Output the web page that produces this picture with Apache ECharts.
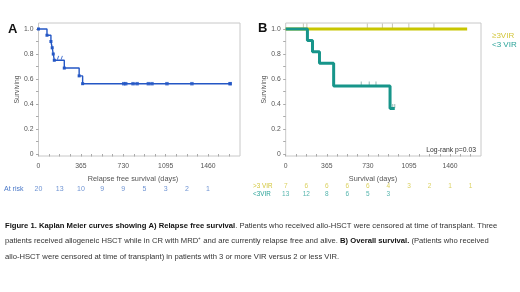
<!DOCTYPE html>
<html>
<head>
<meta charset="utf-8">
<script src="https://cdn.jsdelivr.net/npm/echarts@6/dist/echarts.min.js"></script>
<style>
  html,body{margin:0;padding:0;background:#fff}
  #main{width:520px;height:292px}
</style>
</head>
<body>
<div id="main"></div>
<script>
// panel A: relapse free survival (days, survival)
var rfsSteps=[[0,1],[73,0.95],[107,0.90],[118,0.85],[127,0.80],[136,0.75],[222,0.6875],[350,0.625],[380,0.5625],[1650,0.5625]]
var rfsCensorSq=[[734,0.5625],[751,0.5625],[814,0.5625],[849,0.5625],[946,0.5625],[977,0.5625],[1106,0.5625],[1321,0.5625],[1650,0.5625]]
var rfsCensorTick=[[168,0.75],[200,0.75]]
var riskDays=[0,182.5,365,547.5,730,912.5,1095,1277.5,1460,1642.5]
var riskA=[20,13,10,9,9,5,3,2,1]

// panel B: overall survival by VIR group
var hiVir=[[0,1],[1612,1]]
var hiVirCensor=[[157,1],[188,1],[725,1],[859,1],[948,1],[1094,1],[1317,1]]
var loVir=[[0,1],[193,0.909],[238,0.818],[300,0.727],[426,0.545],[927,0.364],[969,0.364]]
var loVirCensor=[[671,0.545],[742,0.545],[802,0.545],[951,0.364],[969,0.364]]
var riskHi=[7,6,6,6,6,4,3,2,1,1]
var riskLo=[13,12,8,6,5,3]

var xLabels=[0,365,730,1095,1460]
var yLabels=[0,0.2,0.4,0.6,0.8,1.0]
var xTicks=[0,91.25,182.5,273.75,365,456.25,547.5,638.75,730,821.25,912.5,1003.75,1095,1186.25,1277.5,1368.75,1460,1551.25,1642.5]
var yTicks=[0,0.1,0.2,0.3,0.4,0.5,0.6,0.7,0.8,0.9,1.0]

var blue='#2457c5', blueTxt='#4a78c8'
var yel='#c8c600', yelTxt='#d2c63a'
var teal='#17958a', tealTxt='#2aa398'
var FF='"Liberation Sans", Arial, sans-serif'

var chart=echarts.init(document.getElementById('main'),null,{renderer:'canvas'})

function xAx(gi){
  return {type:'value',gridIndex:gi,min:0,max:1735,
    axisLine:{show:false},splitLine:{show:false},
    axisTick:{show:true,length:2.5,lineStyle:{color:'#aaa'},customValues:xTicks},
    axisLabel:{fontSize:6.8,color:'#555',fontFamily:FF,margin:7,customValues:xLabels,
      formatter:function(v){return String(v)}}}
}
function yAx(gi){
  return {type:'value',gridIndex:gi,min:-0.016,max:1.048,
    name:'Surviving',nameLocation:'middle',nameGap:17,
    nameTextStyle:{fontSize:6.8,color:'#555',fontFamily:FF},
    axisLine:{show:false},splitLine:{show:false},
    axisTick:{show:true,length:2.5,lineStyle:{color:'#aaa'},customValues:yTicks},
    axisLabel:{fontSize:6.8,color:'#555',fontFamily:FF,margin:5,customValues:yLabels,
      formatter:function(v){return v===0?'0':v.toFixed(1)}}}
}
function hidX(gi){return {type:'value',gridIndex:gi,min:0,max:1735,show:false}}
function hidY(gi){return {type:'value',gridIndex:gi,min:0,max:1,show:false}}

function riskSeries(gi,arr,yv,color,fs){
  return {type:'scatter',xAxisIndex:gi,yAxisIndex:gi,symbolSize:0,silent:true,
    data:arr.map(function(n,i){return {value:[riskDays[i],yv],label:{formatter:String(n)}}}),
    label:{show:true,position:'inside',fontSize:fs,color:color,fontFamily:FF}}
}

var capStyle={fontSize:7.65,fill:'#333',fontFamily:FF,verticalAlign:'middle',
  rich:{b:{fontWeight:'bold',fill:'#111',fontSize:7.65,fontFamily:FF}}}

var option={
  animation:false,
  grid:[
    {left:38.5,top:23,width:201.5,height:133,show:true,borderColor:'#c8c8c8',borderWidth:1,backgroundColor:'#fff'},
    {left:285.7,top:23,width:195.3,height:133,show:true,borderColor:'#c8c8c8',borderWidth:1,backgroundColor:'#fff'},
    {left:38.5,top:183,width:201.5,height:12},
    {left:285.7,top:180,width:195.3,height:20}
  ],
  xAxis:[xAx(0),xAx(1),hidX(2),hidX(3)],
  yAxis:[yAx(0),yAx(1),hidY(2),hidY(3)],
  series:[
    {type:'line',xAxisIndex:0,yAxisIndex:0,step:'end',data:rfsSteps,
      symbol:'rect',symbolSize:3,showSymbol:true,
      lineStyle:{color:blue,width:1.4},itemStyle:{color:blue}},
    {type:'scatter',xAxisIndex:0,yAxisIndex:0,data:rfsCensorSq,symbol:'rect',symbolSize:3.5,itemStyle:{color:blue}},
    {type:'scatter',xAxisIndex:0,yAxisIndex:0,data:rfsCensorTick,symbol:'rect',symbolSize:[1,4],symbolOffset:[0,-2.5],symbolRotate:-20,itemStyle:{color:blue}},
    {type:'line',xAxisIndex:1,yAxisIndex:1,data:hiVir,showSymbol:false,lineStyle:{color:yel,width:3}},
    {type:'scatter',xAxisIndex:1,yAxisIndex:1,data:hiVirCensor,symbol:'rect',symbolSize:[1,5],symbolOffset:[0,-3],itemStyle:{color:'#b8b8a0'}},
    {type:'line',xAxisIndex:1,yAxisIndex:1,step:'end',data:loVir,showSymbol:false,lineStyle:{color:teal,width:3}},
    {type:'scatter',xAxisIndex:1,yAxisIndex:1,data:loVirCensor,symbol:'rect',symbolSize:[1,4],symbolOffset:[0,-2.5],itemStyle:{color:'#7aa8a2'}},
    riskSeries(2,riskA,0.5,blueTxt,7),
    riskSeries(3,riskHi,0.665,yelTxt,6.5),
    riskSeries(3,riskLo,0.3,tealTxt,6.5)
  ],
  graphic:[
    {type:'text',left:8,top:23,style:{text:'A',fontSize:13,fontWeight:'bold',fill:'#111',fontFamily:FF}},
    {type:'text',left:258,top:22,style:{text:'B',fontSize:13,fontWeight:'bold',fill:'#111',fontFamily:FF}},
    {type:'text',x:133,y:179,style:{text:'Relapse free survival (days)',fontSize:7.3,fill:'#555',fontFamily:FF,align:'center',verticalAlign:'middle'}},
    {type:'text',x:373,y:179,style:{text:'Survival (days)',fontSize:7.3,fill:'#555',fontFamily:FF,align:'center',verticalAlign:'middle'}},
    {type:'text',x:476,y:150,style:{text:'Log-rank p=0.03',fontSize:6.8,fill:'#333',fontFamily:FF,align:'right',verticalAlign:'middle'}},
    {type:'text',x:492,y:36,style:{text:'\u22653VIR',fontSize:8,fill:yelTxt,fontFamily:FF,verticalAlign:'middle'}},
    {type:'text',x:492,y:45,style:{text:'<3 VIR',fontSize:8,fill:tealTxt,fontFamily:FF,verticalAlign:'middle'}},
    {type:'text',x:4,y:189,style:{text:'At risk',fontSize:7,fill:blueTxt,fontFamily:FF,verticalAlign:'middle'}},
    {type:'text',x:253,y:186.7,style:{text:'>3 VIR',fontSize:6.3,fill:yelTxt,fontFamily:FF,verticalAlign:'middle'}},
    {type:'text',x:253,y:194,style:{text:'<3VIR',fontSize:6.3,fill:tealTxt,fontFamily:FF,verticalAlign:'middle'}},
    {type:'text',x:5,y:226,style:Object.assign({},capStyle,{
      text:'{b|Figure 1. Kaplan Meier curves showing A) Relapse free survival}. Patients who received allo-HSCT were censored at time of transplant. Three'})},
    {type:'text',x:5,y:241,style:Object.assign({},capStyle,{
      text:'patients received allogeneic HSCT while in CR with MRD\u207A and are currently relapse free and alive. {b|B) Overall survival.} (Patients who received'})},
    {type:'text',x:5,y:257,style:Object.assign({},capStyle,{
      text:'allo-HSCT were censored at time of transplant) in patients with 3 or more VIR versus 2 or less VIR.'})}
  ]
}
chart.setOption(option)
</script>
</body>
</html>
